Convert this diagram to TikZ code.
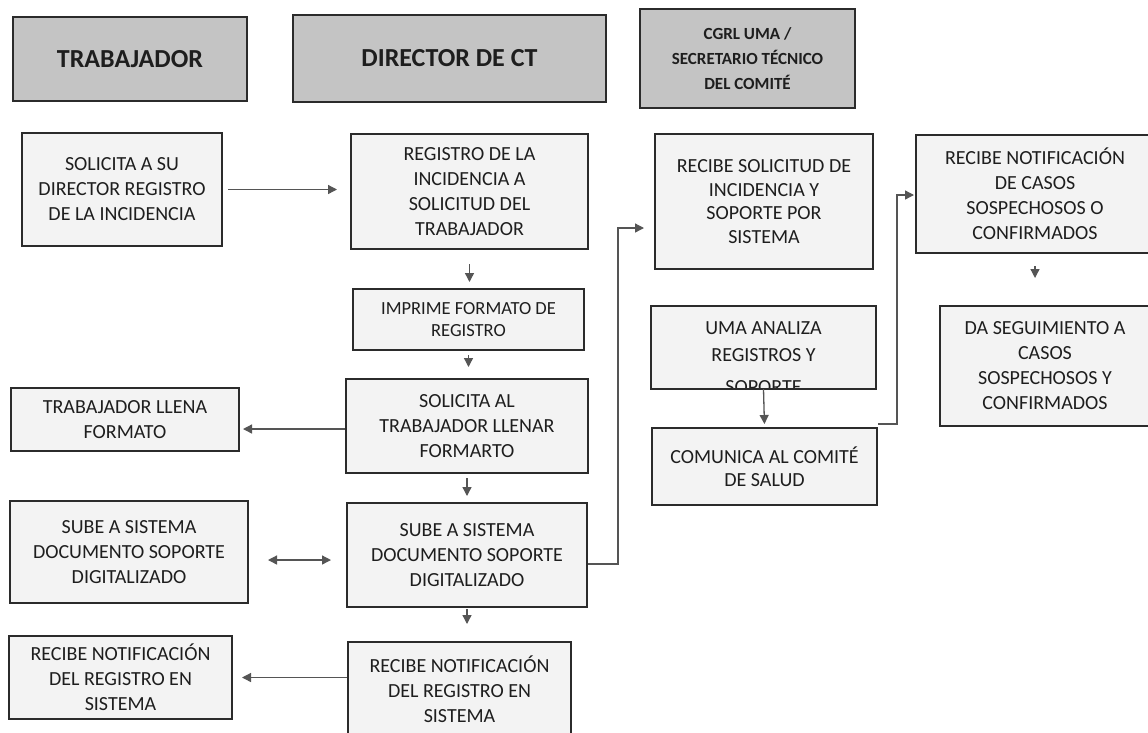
\documentclass[tikz,border=0pt]{standalone}
\usepackage{fontspec}
\setmainfont{Carlito}
\usetikzlibrary{arrows.meta}

\definecolor{fondocab}{HTML}{C4C4C4}
\definecolor{fondocaja}{HTML}{F3F3F3}
\definecolor{borde}{HTML}{2B2B2B}
\definecolor{flecha}{HTML}{555555}
\definecolor{tinta}{HTML}{1E1E1E}

\begin{document}
\begin{tikzpicture}[x=1pt,y=-1pt,
    >={Triangle[length=9pt,width=9pt]},
    cabecera/.style={draw=borde, line width=2pt, fill=fondocab, text=tinta,
                     font=\fontsize{26}{30}\selectfont\bfseries, align=center, inner sep=0pt},
    caja/.style={draw=borde, line width=2pt, fill=fondocaja, text=tinta,
                 font=\fontsize{20}{25}\selectfont, align=center, inner sep=0pt},
    flujo/.style={draw=flecha, line width=1.3pt, ->}]
    \useasboundingbox (0,0) rectangle (1148,732);
    \fill[white] (0,0) rectangle (1148,732);

    \node[cabecera, minimum width=234, minimum height=84] (htrab) at (130,59) {TRABAJADOR};
    \node[cabecera, minimum width=313, minimum height=87] (hdir) at (449.5,58.5) {DIRECTOR DE CT};
    \node[cabecera, minimum width=215, minimum height=99,
          font=\fontsize{17}{25}\selectfont\bfseries] (hcgrl) at (747.5,58.5)
          {CGRL UMA /\\SECRETARIO TÉCNICO\\DEL COMITÉ};

    \node[caja, minimum width=200, minimum height=113] (t1) at (122,189.5)
          {SOLICITA A SU\\DIRECTOR REGISTRO\\DE LA INCIDENCIA};
    \node[caja, minimum width=228, minimum height=63] (t2) at (125,419.5)
          {TRABAJADOR LLENA\\FORMATO};
    \node[caja, minimum width=238, minimum height=102] (t3) at (129,552)
          {SUBE A SISTEMA\\DOCUMENTO SOPORTE\\DIGITALIZADO};
    \node[caja, minimum width=223, minimum height=83] (t4) at (120.5,677.5)
          {RECIBE NOTIFICACIÓN\\DEL REGISTRO EN\\SISTEMA};

    \node[caja, minimum width=237, minimum height=115] (d1) at (469.5,191.5)
          {REGISTRO DE LA\\INCIDENCIA A\\SOLICITUD DEL\\TRABAJADOR};
    \node[caja, minimum width=231, minimum height=61,
          font=\fontsize{18.5}{22}\selectfont] (d2) at (468.5,319.5)
          {IMPRIME FORMATO DE\\REGISTRO};
    \node[caja, minimum width=242, minimum height=94] (d3) at (467,426)
          {SOLICITA AL\\TRABAJADOR LLENAR\\FORMARTO};
    \node[caja, minimum width=240, minimum height=104] (d4) at (467,555)
          {SUBE A SISTEMA\\DOCUMENTO SOPORTE\\DIGITALIZADO};
    \node[caja, minimum width=223, minimum height=94] (d5) at (459.5,689)
          {RECIBE NOTIFICACIÓN\\DEL REGISTRO EN\\SISTEMA};

    \node[caja, minimum width=218, minimum height=135, font=\fontsize{20}{23.5}\selectfont] (c1) at (764,201.5)
          {RECIBE SOLICITUD DE\\INCIDENCIA Y\\SOPORTE POR\\SISTEMA};
    \node[caja, draw=none, minimum width=223, minimum height=81] (c2) at (763.5,347.5) {};
    \begin{scope}
        \clip (c2.south west) rectangle (c2.north east);
        \node[caja, draw=none, fill=none, anchor=north,
              font=\fontsize{20}{27}\selectfont] (c2txt) at (763.5,321)
              {UMA ANALIZA\\REGISTROS Y\\[5pt]SOPORTE};
    \end{scope}
    \draw[borde, line width=2pt] (c2.south west) rectangle (c2.north east);
    \node[caja, minimum width=225, minimum height=77, font=\fontsize{20}{23}\selectfont] (c3) at (764.5,466.5)
          {COMUNICA AL COMITÉ\\DE SALUD};
    \node[caja, minimum width=238, minimum height=118] (c4) at (1035,194)
          {RECIBE NOTIFICACIÓN\\DE CASOS\\SOSPECHOSOS O\\CONFIRMADOS};
    \node[caja, minimum width=210, minimum height=120] (c5) at (1045,366)
          {DA SEGUIMIENTO A\\CASOS\\SOSPECHOSOS Y\\CONFIRMADOS};

    \coordinate (codo1) at (618,228);
    \coordinate (codo2) at (897,195);

    \draw[flujo, shorten <=5pt, shorten >=13pt] (t1.east) -- (t1.east -| d1.west);
    \draw[flujo, shorten <=14pt, shorten >=6pt] (d1.south) -- (d1.south |- d2.north);
    \draw[flujo, shorten <=4pt, shorten >=11pt] (d2.south) -- (d2.south |- d3.north);
    \draw[flujo, shorten >=3pt] (d3.west |- 0,429) -- (t2.east |- 0,429);
    \draw[flujo, shorten <=4pt, shorten >=6pt] (d3.south) -- (d3.south |- d4.north);
    \draw[flujo, <->, shorten <=15pt, shorten >=19pt] (d4.west |- 0,560) -- (t3.east |- 0,560);
    \draw[flujo, shorten >=10pt] (d4.east |- 0,564) -| (codo1) -- (codo1 -| c1.west);
    \draw[flujo, shorten <=1pt, shorten >=17pt] (d4.south) -- (d4.south |- d5.north);
    \draw[flujo, shorten >=9pt] (d5.west |- t4.east) -- (t4.east);
    \draw[flujo, shorten >=3pt] (c2.south) -- (c3.north);
    \draw[flujo, shorten >=1pt] (c3.north east |- 0,424) -| (codo2) -- (codo2 -| c4.west);
    \draw[flujo, shorten <=12pt, shorten >=27pt] (c4.south) -- (c4.south |- c5.north);
\end{tikzpicture}
\end{document}
